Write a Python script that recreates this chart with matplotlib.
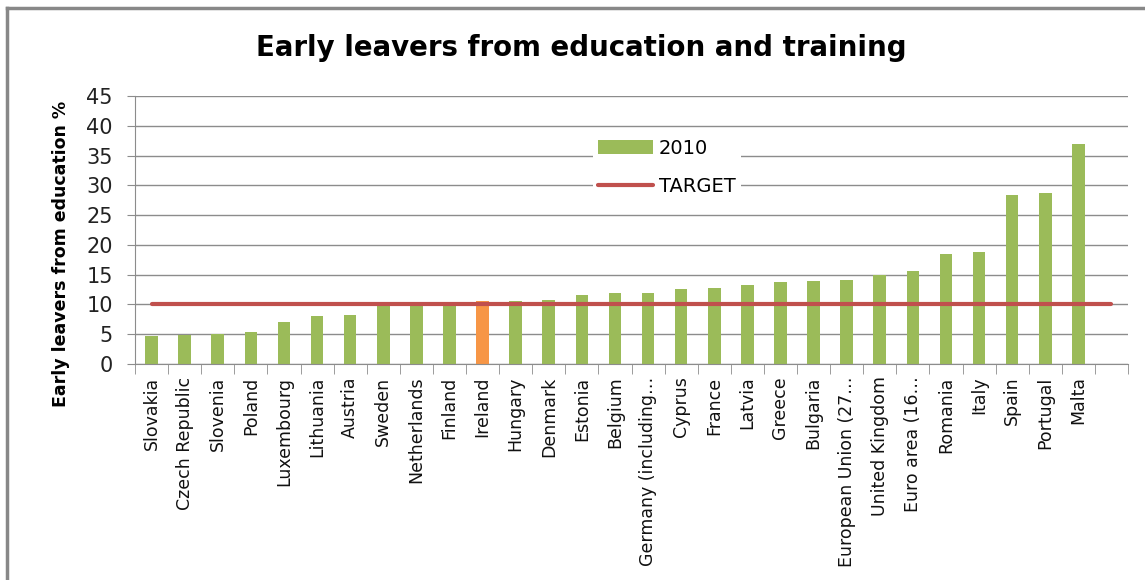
import matplotlib
matplotlib.use('Agg')
import matplotlib.pyplot as plt
from matplotlib.lines import Line2D

# Dados (2010)
countries = ['Slovakia', 'Czech Republic', 'Slovenia', 'Poland', 'Luxembourg',
             'Lithuania', 'Austria', 'Sweden', 'Netherlands', 'Finland',
             'Ireland', 'Hungary', 'Denmark', 'Estonia', 'Belgium',
             'Germany (including…', 'Cyprus', 'France', 'Latvia', 'Greece',
             'Bulgaria', 'European Union (27…', 'United Kingdom', 'Euro area (16…',
             'Romania', 'Italy', 'Spain', 'Portugal', 'Malta', '']
values_2010 = [4.7, 4.9, 5.0, 5.4, 7.1, 8.1, 8.3, 9.7, 10.0, 10.3,
               10.5, 10.5, 10.7, 11.6, 11.9, 11.9, 12.6, 12.8, 13.3, 13.7,
               13.9, 14.1, 14.9, 15.6, 18.4, 18.8, 28.4, 28.7, 36.9]
target = [10, 10, 10, 10, 10, 10, 10, 10, 10, 10, 10, 10, 10, 10, 10,
          10, 10, 10, 10, 10, 10, 10, 10, 10, 10, 10, 10, 10, 10, 10]
highlight = 'Ireland'
y_ticks = [0, 5, 10, 15, 20, 25, 30, 35, 40, 45]

GREEN = '#9BBB59'
ORANGE = '#F79646'
RED = '#C0504D'
GRID = '#8C8C8C'

plt.rcParams['font.family'] = ['DejaVu Sans']

fig = plt.figure(figsize=(11.45, 5.8), dpi=100)
W, H = 1145, 580
ax = fig.add_axes([135 / W, (H - 364) / H, 993 / W, 268 / H])

x = list(range(len(countries)))
colors = [ORANGE if c == highlight else GREEN for c in countries[:len(values_2010)]]
bars = ax.bar(x[:len(values_2010)], values_2010, width=0.38, color=colors, label='2010', zorder=2)
line, = ax.plot(x, target, color=RED, linewidth=3, solid_capstyle='round', label='TARGET', zorder=3)

ax.set_xlim(-0.5, len(countries) - 0.5)
ax.set_ylim(0, 45)
ax.set_yticks(y_ticks)
ax.yaxis.grid(True, color=GRID, linewidth=1)
ax.set_axisbelow(True)

ax.set_xticks(x)
ax.set_xticklabels(countries, rotation=90, fontsize=12.5, color='#111111')
ax.set_xticks([i - 0.5 for i in range(len(countries) + 1)], minor=True)
ax.tick_params(axis='x', which='major', length=0, pad=9)
ax.tick_params(axis='x', which='minor', length=7, color=GRID)
ax.tick_params(axis='y', length=6, color=GRID, labelsize=15, pad=10, labelcolor='#222222')

for s in ['top', 'right']:
    ax.spines[s].set_visible(False)
for s in ['left', 'bottom']:
    ax.spines[s].set_color(GRID)

ax.set_ylabel('Early leavers from education %', fontsize=12.5, fontweight='bold')
ax.yaxis.set_label_coords(-0.0655, 0.41)

fig.text(0.508, 1 - 48 / H, 'Early leavers from education and training',
         ha='center', va='center', fontsize=19.9, fontweight='bold')

leg = ax.legend([bars, line], ['2010', 'TARGET'], loc='upper left',
                bbox_to_anchor=(0.451, 0.899), frameon=True,
                fontsize=14, handlelength=2.8, labelspacing=1.0,
                borderpad=0.3, handletextpad=0.3)
leg.get_frame().set_edgecolor('none')
leg.get_frame().set_facecolor('white')
leg.get_frame().set_alpha(1)
leg.get_frame().set_boxstyle('square', pad=0)

# borda do gráfico (topo e esquerda)
fig.add_artist(Line2D([7 / W, 7 / W], [0, 1 - 8 / H], color='#888888', linewidth=2.5))
fig.add_artist(Line2D([7 / W, 1], [1 - 8 / H, 1 - 8 / H], color='#888888', linewidth=2.5))

fig.savefig('out.png', dpi=100)
